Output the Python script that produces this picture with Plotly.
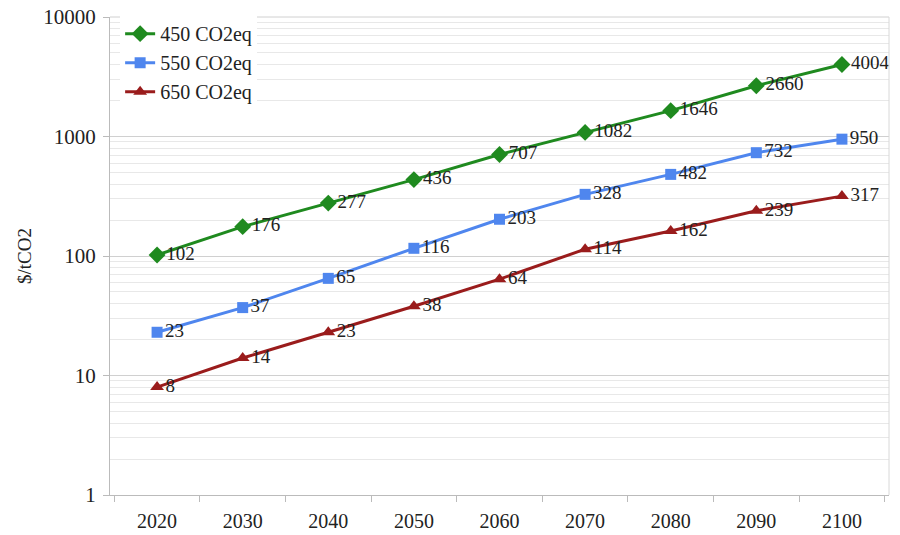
import plotly.graph_objects as go

years = ["2020", "2030", "2040", "2050", "2060", "2070", "2080", "2090", "2100"]
s450 = [102, 176, 277, 436, 707, 1082, 1646, 2660, 4004]
s550 = [23, 37, 65, 116, 203, 328, 482, 732, 950]
s650 = [8, 14, 23, 38, 64, 114, 162, 239, 317]
names = ["450 CO2eq", "550 CO2eq", "650 CO2eq"]
colors = ["#1f8a1f", "#4f86ee", "#9a1c1c"]
symbols = ["diamond", "square", "triangle-up"]
msizes = [13, 11, 12]

SERIF = "Liberation Serif"

fig = go.Figure()
for name, vals, col, sym, ms in zip(names, [s450, s550, s650], colors, symbols, msizes):
    fig.add_trace(go.Scatter(
        x=years, y=vals, name=name, mode="lines+markers+text",
        line=dict(color=col, width=3),
        marker=dict(symbol=sym, size=ms, color=col),
        text=[str(v) for v in vals], textposition="middle right",
        textfont=dict(family=SERIF, size=19, color="#222"),
        cliponaxis=False,
    ))

minor_vals = [m * 10 ** e for e in range(0, 4) for m in range(2, 10)]

fig.update_layout(
    template="none",
    width=900, height=535,
    margin=dict(l=110, r=11, t=17, b=40, autoexpand=False),
    paper_bgcolor="white", plot_bgcolor="white",
    font=dict(family=SERIF, size=18, color="#222"),
    showlegend=True,
    legend=dict(x=0.013, y=1.006, xanchor="left", yanchor="top",
                bgcolor="white", borderwidth=0,
                font=dict(family=SERIF, size=20), tracegroupgap=0,
                itemwidth=30),
    xaxis=dict(type="category", tickson="boundaries", ticks="outside", ticklen=6,
               tickcolor="#bbbbbb", showline=True, linecolor="#bbbbbb", automargin=False,
               ticklabelstandoff=8,
               showgrid=False, mirror=False, tickfont=dict(family=SERIF, size=20)),
    yaxis=dict(type="log", range=[0, 4], tickvals=[1, 10, 100, 1000, 10000],
               ticktext=["1", "10", "100", "1000", "10000"],
               ticks="outside", ticklen=6, tickcolor="#bbbbbb", automargin=False,
               ticklabeloverflow="allow", ticklabelstandoff=3,
               showline=True, linecolor="#bbbbbb", gridcolor="#d0d0d0",
               gridwidth=1, zeroline=False,
               minor=dict(tickvals=minor_vals, showgrid=True, gridcolor="#e8e8e8", ticks=""),
               tickfont=dict(family=SERIF, size=21)),
)
fig.add_annotation(text="$/tCO2", xref="paper", yref="paper", x=-0.1104, y=0.5,
                   xanchor="center", yanchor="middle", textangle=-90, showarrow=False,
                   font=dict(family=SERIF, size=19, color="#222"))
fig.add_shape(type="line", xref="paper", yref="paper", x0=1, x1=1, y0=0, y1=1,
              line=dict(color="#d8d8d8", width=1))
fig.add_shape(type="line", xref="paper", yref="paper", x0=0, x1=1, y0=1, y1=1,
              line=dict(color="#d0d0d0", width=1), layer="below")
fig.write_html("out.html", config={"displayModeBar": False},
               post_script="document.body.style.margin='0';")
